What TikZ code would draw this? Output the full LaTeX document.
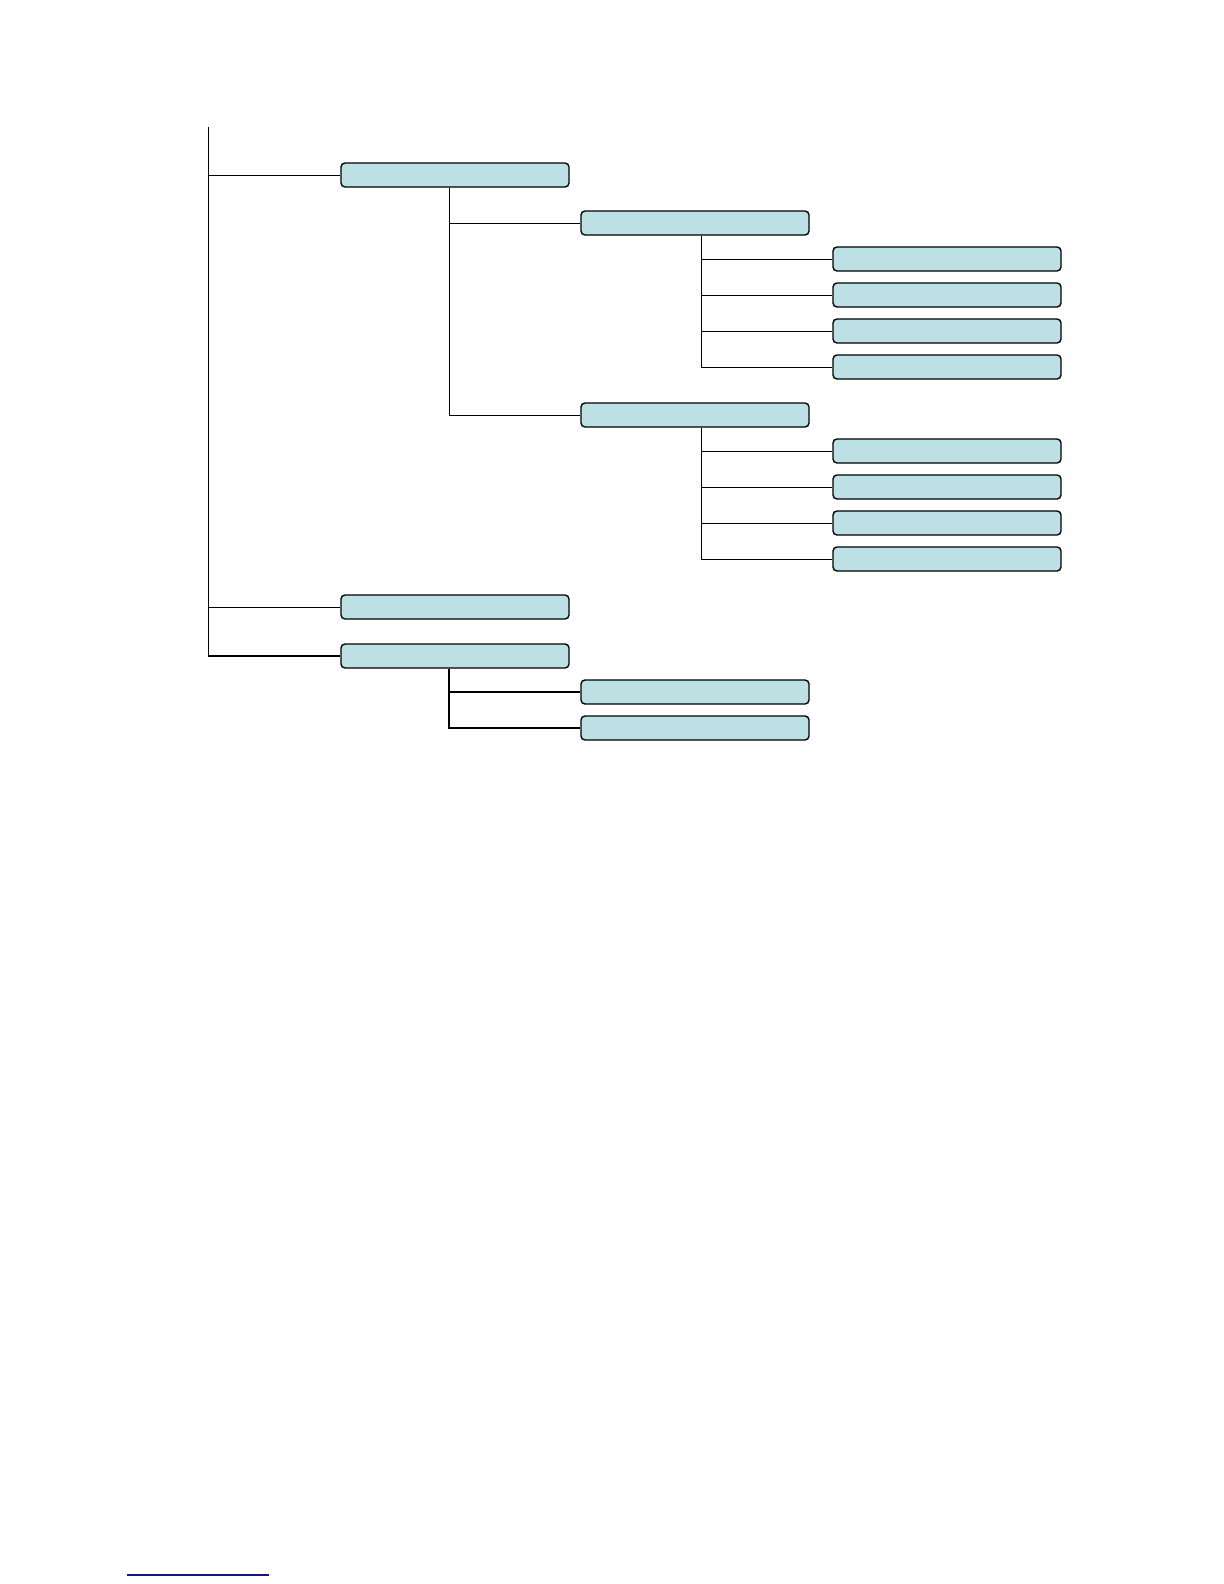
\documentclass[tikz,border=0pt]{standalone}
\usepackage{xcolor}
\definecolor{boxfill}{RGB}{188,224,227}
\definecolor{rulenavy}{RGB}{20,20,140}

\begin{document}
\begin{tikzpicture}[x=0.5pt,y=-0.5pt,
  box/.style={draw=black,line width=0.7pt,fill=boxfill,rounded corners=2pt,minimum width=114pt,minimum height=12pt,inner sep=0pt},
  link/.style={line width=0.5pt},
  thicklink/.style={line width=0.85pt}]
\useasboundingbox (0,0) rectangle (1224,1584);
% Root trunk
\coordinate (top) at (208,127);
% First level
\node[box] (A) at (455,175) {};
\node[box] (B) at (455,607) {};
\node[box] (C) at (455,656) {};
\draw[link] (top) |- (A.west);
\draw[link] (top) |- (B.west);
\draw[link] (top) -- (top |- C.west);
\draw[thicklink] (top |- C.west) -- (C.west);
% Second level
\node[box] (A1) at (695,223) {};
\node[box] (A2) at (695,415) {};
\draw[link] ([xshift=-3pt]A.south) |- (A1.west);
\draw[link] ([xshift=-3pt]A.south) |- (A2.west);
\node[box] (C1) at (695,692) {};
\node[box] (C2) at (695,728) {};
\draw[thicklink] ([xshift=-3pt]C.south) |- (C1.west);
\draw[thicklink] ([xshift=-3pt]C.south) |- (C2.west);
% Third level
\foreach \i/\y in {1/259,2/295,3/331,4/367} {
  \node[box] (A1\i) at (947,\y) {};
  \draw[link] ([xshift=3pt]A1.south) |- (A1\i.west);
}
\foreach \i/\y in {1/451,2/487,3/523,4/559} {
  \node[box] (A2\i) at (947,\y) {};
  \draw[link] ([xshift=3pt]A2.south) |- (A2\i.west);
}
% Footnote rule
\coordinate (ruleL) at (127,1575);
\coordinate (ruleR) at (269,1575);
\draw[rulenavy,line width=0.6pt] (ruleL) -- (ruleR);
\end{tikzpicture}
\end{document}
